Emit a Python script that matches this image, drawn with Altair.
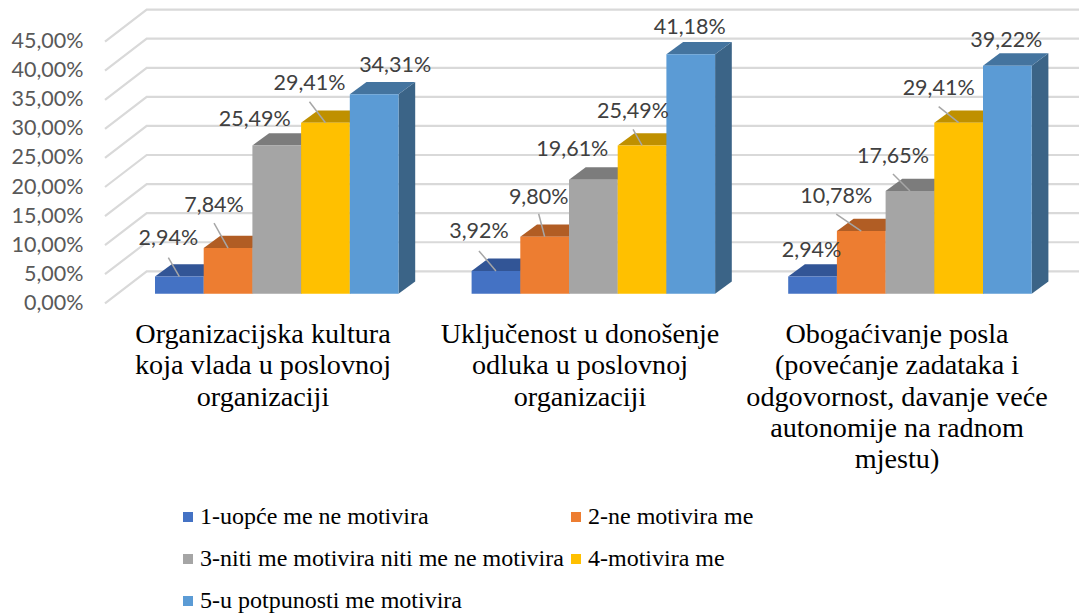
import altair as alt
import pandas as pd

# ---- chart values ----
groups = [
    "Organizacijska kultura\nkoja vlada u poslovnoj\norganizaciji",
    "Uključenost u donošenje\nodluka u poslovnoj\norganizaciji",
    "Obogaćivanje posla\n(povećanje zadataka i\nodgovornost, davanje veće\nautonomije na radnom\nmjestu)",
]
series = [
    "1-uopće me ne motivira",
    "2-ne motivira me",
    "3-niti me motivira niti me ne motivira",
    "4-motivira me",
    "5-u potpunosti me motivira",
]
s1 = [2.94, 3.92, 2.94]
s2 = [7.84, 9.80, 10.78]
s3 = [25.49, 19.61, 17.65]
s4 = [29.41, 25.49, 29.41]
s5 = [34.31, 41.18, 39.22]
values = [s1, s2, s3, s4, s5]
ticks = [0, 5, 10, 15, 20, 25, 30, 35, 40, 45]

front_colors = ["#4472C4", "#ED7D31", "#A5A5A5", "#FFC000", "#5B9BD5"]
top_colors = ["#325596", "#B15D24", "#7C7C7C", "#BF9000", "#44749F"]
side_colors = ["#2F5090", "#A05520", "#707070", "#A87F00", "#3B6487"]

# ---- layout (page pixels) ----
PAD_L = 75
W, H = 996, 605
PX_X = 316.6               # one group step
PX_Y = 5.815               # one percentage point
bar_w = 48.7 / PX_X
x0_px = 155 - 8 - PAD_L    # first bar left, in plot px
y0_px = 303.3 - 8          # axis zero, in plot px
x_dom = [-x0_px / PX_X, (W - x0_px) / PX_X]
y_dom = [(y0_px - H) / PX_Y, y0_px / PX_Y]
bar_lift = 9.6 / PX_Y      # bars stand this far into the floor
depth_x, depth_y = 16.7 / PX_X, 12.3 / PX_Y
wall_x, wall_y = 41.7 / PX_X, 32.0 / PX_Y
wall_front_x = (105 - 155) / PX_X

label_off = [  # per series, per group: label centre from bar top centre, px
    [(-11, -38), (-17, -39), (-1, -26)],
    [(-14, -42), (-6, -39), (-25, -34)],
    [(-22, -25), (-21, -30), (-17, -34)],
    [(-16, -39), (-9, -33), (-20, -34)],
    [(21, -28), (-1, -26), (-1, -25)],
]
leader_off = [
    [(-11, -19), (-17, -20), None],
    [(-14, -25), (-6, -23), (-25, -17)],
    [None, None, (-17, -17)],
    [(-16, -21), (-9, -16), (-20, -16)],
    [None, None, None],
]
cat_x_px = [263, 580, 897]
cat_top_px = 321

xs = alt.Scale(domain=x_dom, nice=False, zero=False)
ys = alt.Scale(domain=y_dom, nice=False, zero=False)
y_axis = alt.Axis(
    values=ticks, domain=False, ticks=False, grid=False, labelPadding=0, title=None,
    labelFont="Lato", labelFontSize=21.5, labelColor="#595959",
    labelExpr="replace(format(datum.value, '.2f'), '.', ',') + '%'")
X = alt.X("x:Q", scale=xs, axis=None)
Y = alt.Y("y:Q", scale=ys, axis=y_axis)

# ---- walls ----
wall = []
for t in ticks:
    for i, (x, y) in enumerate([(wall_front_x, t), (wall_front_x + wall_x, t + wall_y), (x_dom[1], t + wall_y)]):
        wall.append({"t": t, "i": i, "x": x, "y": y})
wall_layer = alt.Chart(pd.DataFrame(wall)).mark_line(color="#D9D9D9", strokeWidth=2.2, clip=True).encode(
    x=X, y=Y, detail="t:N", order="i:Q")

# ---- bars ----
bar_layers = []
color_scale = alt.Scale(domain=series, range=front_colors)
legend = alt.Legend(
    title=None, orient="none", legendX=93, legendY=497, columns=2, columnPadding=-2,
    direction="horizontal",
    rowPadding=18, symbolType="square", symbolSize=100, symbolStrokeWidth=0, labelOffset=0,
    labelFont="Liberation Serif", labelFontSize=24, labelColor="#000000", labelLimit=500)
for k, name in enumerate(series):
    side, top, front = [], [], []
    for g, v in enumerate(values[k]):
        x1 = g + k * bar_w
        x2 = x1 + bar_w
        base, tp = bar_lift, v + bar_lift
        front.append({"g": g, "x": x1, "x2": x2, "y": base, "y2": tp, "s": name})
        side += [{"g": g, "x": x2, "y": base, "y2": tp},
                 {"g": g, "x": x2 + depth_x, "y": base + depth_y, "y2": tp + depth_y}]
        top += [{"g": g, "y": tp, "x": x1, "x2": x2},
                {"g": g, "y": tp + depth_y, "x": x1 + depth_x, "x2": x2 + depth_x}]
    bar_layers.append(alt.Chart(pd.DataFrame(side)).mark_area(orient="vertical", color=side_colors[k]).encode(
        x=X, y=Y, y2="y2:Q", detail="g:N"))
    bar_layers.append(alt.Chart(pd.DataFrame(top)).mark_area(orient="horizontal", color=top_colors[k]).encode(
        x=X, x2="x2:Q", y=Y, detail="g:N"))
    bar_layers.append(alt.Chart(pd.DataFrame(front)).mark_rect().encode(
        x=X, x2="x2:Q", y=Y, y2="y2:Q",
        color=alt.Color("s:N", scale=color_scale, sort=None, legend=legend)))

# ---- data labels and leaders ----
labels, leaders = [], []
for k in range(len(series)):
    for g, v in enumerate(values[k]):
        cx = g + (k + 0.5) * bar_w
        ty = v + bar_lift
        dx, dy = label_off[k][g]
        labels.append({"x": cx + dx / PX_X, "y": ty - dy / PX_Y,
                       "text": f"{v:.2f}".replace(".", ",") + "%"})
        if leader_off[k][g]:
            lx, ly = leader_off[k][g]
            leaders.append({"x": cx + lx / PX_X, "y": ty - ly / PX_Y, "x2": cx, "y2": ty})
leader_layer = alt.Chart(pd.DataFrame(leaders)).mark_rule(color="#A6A6A6", strokeWidth=1.5).encode(
    x=X, x2="x2:Q", y=Y, y2="y2:Q")
label_layer = alt.Chart(pd.DataFrame(labels)).mark_text(
    font="Lato", fontSize=21.5, color="#404040", baseline="middle", align="center").encode(
    x=X, y=Y, text="text:N")

# ---- category labels ----
cats = pd.DataFrame({
    "x": [(p - 8 - PAD_L - x0_px) / PX_X for p in cat_x_px],
    "y": [(y0_px - (cat_top_px - 8)) / PX_Y] * 3,
    "text": groups,
})
cat_layer = alt.Chart(cats).mark_text(
    font="Liberation Serif", fontSize=28.2, color="#000000", baseline="top", align="center",
    lineBreak="\n", lineHeight=31.3).encode(x=X, y=Y, text="text:N")

chart = alt.layer(wall_layer, *bar_layers, leader_layer, label_layer, cat_layer).properties(
    width=W, height=H,
    padding={"left": PAD_L, "top": 0, "right": 0, "bottom": 0},
    autosize=alt.AutoSizeParams(type="none"),
).configure_view(stroke=None)

chart.save("out.html", embed_options={"renderer": "svg", "actions": False})
